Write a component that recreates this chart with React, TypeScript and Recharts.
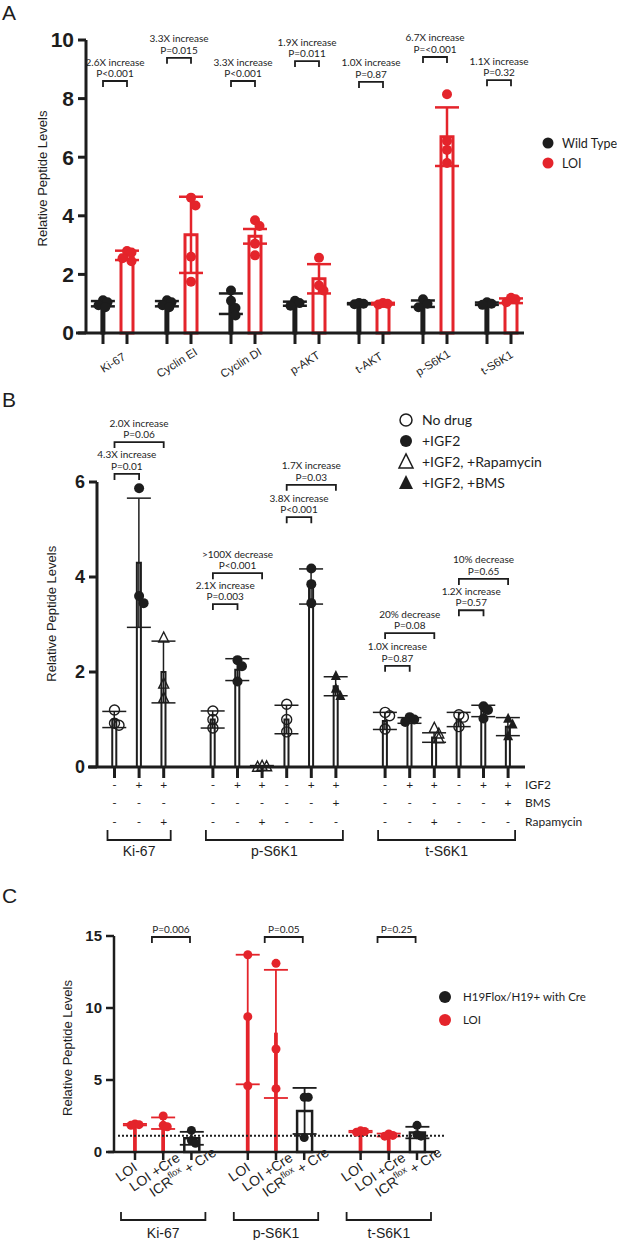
import React from 'react';
import {
  ComposedChart,
  Bar,
  ErrorBar,
  Scatter,
  Line,
  XAxis,
  YAxis,
  ReferenceLine,
} from 'recharts';

const RED = '#e4242b';
const INK = '#1d1d1d';
const NUM_FONT = '"Liberation Sans Narrow", "Liberation Sans", Arial, sans-serif';
const SANS = '"Liberation Sans", Arial, sans-serif';
const NOTE = 'Lato, "Liberation Sans", sans-serif';

// ---------- Panel A: wild type vs LOI ----------
const aProteins = ['Ki-67', 'Cyclin EI', 'Cyclin DI', 'p-AKT', 't-AKT', 'p-S6K1', 't-S6K1'];
const aWtMean = [1.0, 1.0, 1.0, 1.0, 1.0, 1.0, 1.0];
const aWtSd = [0.09, 0.09, 0.35, 0.07, 0.02, 0.11, 0.04];
const aLoiMean = [2.65, 3.35, 3.3, 1.85, 1.0, 6.7, 1.1];
const aLoiSd = [0.16, 1.3, 0.25, 0.5, 0.03, 1.0, 0.08];
const aWtPoints = [
  [1.12, 1.05, 0.95, 0.88],
  [1.12, 1.05, 0.95, 0.88],
  [1.45, 1.1, 0.85, 0.6],
  [1.1, 1.02, 0.93],
  [1.02, 1.0, 0.98],
  [1.15, 1.0, 0.88],
  [1.05, 1.0, 0.96],
];
const aLoiPoints = [
  [2.8, 2.75, 2.55, 2.45],
  [4.62, 4.35, 2.6, 1.75],
  [3.85, 3.65, 3.05, 2.65],
  [2.57, 1.62, 1.45],
  [1.02, 1.0, 0.97],
  [8.15, 6.55, 6.25, 5.8],
  [1.2, 1.15, 1.05],
];
const aStats = [
  { group: 0, y: 8.6, text: ['2.6X increase', 'P<0.001'] },
  { group: 1, y: 9.39, text: ['3.3X increase', 'P=0.015'] },
  { group: 2, y: 8.6, text: ['3.3X increase', 'P<0.001'] },
  { group: 3, y: 9.28, text: ['1.9X increase', 'P=0.011'] },
  { group: 4, y: 8.57, text: ['1.0X increase', 'P=0.87'] },
  { group: 5, y: 9.42, text: ['6.7X increase', 'P=<0.001'] },
  { group: 6, y: 8.63, text: ['1.1X increase', 'P=0.32'] },
];
const aLegend = ['Wild Type', 'LOI'];
const aYTicks = [0, 2, 4, 6, 8, 10];

// ---------- Panel B: drug treatments ----------
const bGroups = ['Ki-67', 'p-S6K1', 't-S6K1'];
const bGroupOf = [0, 0, 0, 1, 1, 1, 1, 1, 1, 2, 2, 2, 2, 2, 2];
const bIgf2 = ['-', '+', '+', '-', '+', '+', '-', '+', '+', '-', '+', '+', '-', '+', '+'];
const bBms = ['-', '-', '-', '-', '-', '-', '-', '-', '+', '-', '-', '-', '-', '-', '+'];
const bRapa = ['-', '-', '+', '-', '-', '+', '-', '-', '-', '-', '-', '+', '-', '-', '-'];
const bMean = [1.0, 4.3, 2.0, 1.0, 2.05, 0.02, 1.0, 3.8, 1.7, 0.97, 0.98, 0.62, 1.0, 1.18, 0.85];
const bSd = [0.17, 1.36, 0.65, 0.18, 0.23, 0.01, 0.3, 0.37, 0.2, 0.18, 0.06, 0.1, 0.15, 0.12, 0.19];
const bPoints = [
  [1.2, 0.92, 0.88],
  [5.87, 3.6, 3.45],
  [2.72, 1.75, 1.45],
  [1.18, 1.0, 0.82],
  [2.25, 2.12, 1.8],
  [0.02, 0.01, 0.0],
  [1.32, 1.0, 0.74],
  [4.18, 3.85, 3.45],
  [1.92, 1.65, 1.5],
  [1.15, 1.08, 0.8],
  [1.05, 1.0, 0.95],
  [0.82, 0.7, 0.6],
  [1.1, 1.05, 0.85],
  [1.28, 1.2, 1.02],
  [1.02, 0.9, 0.65],
];
const bStats = [
  { from: 0, to: 1, y: 6.17, text: ['4.3X increase', 'P=0.01'] },
  { from: 0, to: 2, y: 6.84, text: ['2.0X increase', 'P=0.06'] },
  { from: 6, to: 8, y: 5.94, text: ['1.7X increase', 'P=0.03'] },
  { from: 6, to: 7, y: 5.26, text: ['3.8X increase', 'P<0.001'] },
  { from: 3, to: 5, y: 4.08, text: ['>100X decrease', 'P<0.001'] },
  { from: 3, to: 4, y: 3.43, text: ['2.1X increase', 'P=0.003'] },
  { from: 9, to: 11, y: 2.82, text: ['20%  decrease', 'P=0.08'] },
  { from: 9, to: 10, y: 2.13, text: ['1.0X increase', 'P=0.87'] },
  { from: 12, to: 14, y: 3.96, text: ['10% decrease', 'P=0.65'] },
  { from: 12, to: 13, y: 3.3, text: ['1.2X increase', 'P=0.57'] },
];
const bLegend = ['No drug', '+IGF2', '+IGF2, +Rapamycin', '+IGF2, +BMS'];
const bRowNames = ['IGF2', 'BMS', 'Rapamycin'];
const bYTicks = [0, 2, 4, 6];

// ---------- Panel C: Cre rescue ----------
const cGroups = ['Ki-67', 'p-S6K1', 't-S6K1'];
const cConditions = ['LOI', 'LOI +Cre', 'ICR^flox^ + Cre'];
const cIsLoi = [true, true, false];
const cMean = [1.9, 2.0, 0.95, 9.2, 8.2, 2.85, 1.42, 1.18, 1.35];
const cSd = [0.05, 0.4, 0.45, 4.5, 4.45, 1.6, 0.05, 0.1, 0.4];
const cPoints = [
  [1.95, 1.9, 1.85],
  [2.5, 1.85, 1.75],
  [1.5, 0.8, 0.6],
  [13.7, 9.4, 4.6],
  [13.1, 7.15, 4.4],
  [3.8, 3.8, 1.0],
  [1.47, 1.42, 1.38],
  [1.25, 1.15, 1.1],
  [1.85, 1.2, 1.1],
];
const cStats = [
  { group: 0, y: 14.93, text: 'P=0.006' },
  { group: 1, y: 14.93, text: 'P=0.05' },
  { group: 2, y: 14.93, text: 'P=0.25' },
];
const cBaseline = 1.13;
const cLegend = ['H19Flox/H19+ with Cre', 'LOI'];
const cYTicks = [0, 5, 10, 15];

// ---------- layout ----------
const W = 617;
const A = { top: 0, height: 395, mTop: 40, left: 86, right: 93, xH: 62, px: 24, first: 17, yMax: 10 };
const B = { top: 380, height: 487, mTop: 54.5, left: 97, right: 92, xH: 100, px: 24.6, first: 17.5, yMax: 7 };
const C = { top: 880, height: 360, mTop: 56, left: 114, right: 181, xH: 88, px: 28.2, first: 21, yMax: 15 };

const domainOf = (L: any): [number, number] => {
  const min = -L.first / L.px;
  return [min, min + (W - L.left - L.right) / L.px];
};
const pyOf = (L: any) => (L.height - L.mTop - L.xH) / L.yMax;

const aDomain = domainOf(A);
const bDomain = domainOf(B);
const cDomain = domainOf(C);
const aPy = pyOf(A);
const bPy = pyOf(B);
const cPy = pyOf(C);

// slot positions: groups separated by one empty slot
const slotsFor = (groupOf: number[]) => {
  const out: number[] = [];
  groupOf.forEach((g, i) => {
    if (i === 0) out.push(0);
    else out.push(out[i - 1] + (g !== groupOf[i - 1] ? 2 : 1));
  });
  return out;
};

const aGroupStep = 8 / 3;
const aBarX = aProteins.flatMap((_, g) => [g * aGroupStep, g * aGroupStep + 1]);
const bX = slotsFor(bGroupOf);
const cGroupOf = cMean.map((_, i) => Math.floor(i / 3));
const cX = slotsFor(cGroupOf);

// spread overlapping dots sideways (pixel offsets)
const spread = [0, 1, -1, 0.5, -0.5, 1.5, -1.5];
function jitter(values: number[], py: number, r: number) {
  return values.map((v, i) => {
    const near = values.slice(0, i).filter((u) => Math.abs(u - v) * py < r * 1.6).length;
    return spread[Math.min(near, spread.length - 1)] * r * 0.9;
  });
}
function dotsFor(values: number[], x: number, py: number, px: number, r: number) {
  const offs = jitter(values, py, r);
  return values.map((v, k) => ({ x: x + offs[k] / px, y: v }));
}
const bracket = (x1: number, x2: number, y: number, leg: number) => [
  { x: x1, y: y - leg },
  { x: x1, y },
  { x: x2, y },
  { x: x2, y: y - leg },
];

// panel A series
const aRows = aProteins.flatMap((_, g) => [
  { x: aBarX[2 * g], wt: aWtMean[g], wtSd: aWtSd[g], loi: null, loiSd: null },
  { x: aBarX[2 * g + 1], wt: null, wtSd: null, loi: aLoiMean[g], loiSd: aLoiSd[g] },
]);
const aWtDots = aWtPoints.flatMap((vals, g) => dotsFor(vals, aBarX[2 * g], aPy, A.px, 5));
const aLoiDots = aLoiPoints.flatMap((vals, g) => dotsFor(vals, aBarX[2 * g + 1], aPy, A.px, 5));
const aBrackets = aStats.map((s) => bracket(aBarX[2 * s.group], aBarX[2 * s.group + 1], s.y, 6 / aPy));
const aNotes = aStats.map((s) => ({ x: (aBarX[2 * s.group] + aBarX[2 * s.group + 1]) / 2, y: s.y, text: s.text }));

// panel B series
const bKind = bIgf2.map((s, i) =>
  s === '-' ? 0 : bRapa[i] === '+' ? 2 : bBms[i] === '+' ? 3 : 1,
);
const bRows = bMean.map((m, i) => ({ x: bX[i], mean: m, sd: bSd[i] }));
const bDots = [0, 1, 2, 3].map((k) =>
  bPoints.flatMap((vals, i) => (bKind[i] === k ? dotsFor(vals, bX[i], bPy, B.px, 5) : [])),
);
const bBrackets = bStats.map((s) => bracket(bX[s.from], bX[s.to], s.y, 6 / bPy));
const bNotes = bStats.map((s) => ({ x: (bX[s.from] + bX[s.to]) / 2, y: s.y, text: s.text }));

// panel C series
const cRows = cMean.map((m, i) => {
  const loi = cIsLoi[i % 3];
  return {
    x: cX[i],
    loi: loi ? m : null,
    loiSd: loi ? cSd[i] : null,
    icr: loi ? null : m,
    icrSd: loi ? null : cSd[i],
  };
});
const cLoiDots = cPoints.flatMap((vals, i) => (cIsLoi[i % 3] ? dotsFor(vals, cX[i], cPy, C.px, 4.5) : []));
const cIcrDots = cPoints.flatMap((vals, i) => (!cIsLoi[i % 3] ? dotsFor(vals, cX[i], cPy, C.px, 4.5) : []));
const cBrackets = cStats.map((s) => bracket(cX[s.group * 3] + 0.6, cX[s.group * 3] + 1.95, s.y, 6 / cPy));
const cNotes = cStats.map((s) => ({ x: cX[s.group * 3] + 1.275, y: s.y, text: [s.text] }));

// ---------- shapes ----------
const dot = (fill: string, r: number) => (p: any) => <circle cx={p.cx} cy={p.cy} r={r} fill={fill} />;
const openDot = (p: any) => (
  <circle cx={p.cx} cy={p.cy} r={5} fill="none" stroke={INK} strokeWidth={1.4} />
);
const triPath = (cx: number, cy: number, s: number) =>
  `M${cx},${cy - s * 0.58} L${cx + s / 2},${cy + s * 0.42} L${cx - s / 2},${cy + s * 0.42} Z`;
const openTri = (p: any) => (
  <path d={triPath(p.cx, p.cy, 10)} fill="none" stroke={INK} strokeWidth={1.4} />
);
const fullTri = (p: any) => <path d={triPath(p.cx, p.cy, 10)} fill={INK} />;
const bShapes = [openDot, dot(INK, 5), openTri, fullTri];

const Note = (p: any) => {
  const lines: string[] = p.payload.text;
  return (
    <g>
      {lines.map((t, k) => (
        <text
          key={k}
          x={p.cx}
          y={p.cy - 4 - (lines.length - 1 - k) * 11.5}
          textAnchor="middle"
          fontFamily={NOTE}
          fontSize={10}
          fill={INK}
        >
          {t}
        </text>
      ))}
    </g>
  );
};

const findIndex = (xs: number[], v: number) => xs.findIndex((u) => Math.abs(u - v) < 1e-6);

// protein names sit centred under each pair of bars
const ATick = ({ x, y, payload }: any) => {
  const i = findIndex(aBarX, payload.value);
  if (i < 0 || i % 2 === 0) return <g />;
  const tx = x - A.px / 2;
  const ty = y + 20;
  return (
    <text x={tx} y={ty} textAnchor="middle" transform={`rotate(-32 ${tx} ${ty})`} fontFamily={SANS} fontSize={11.5} fill={INK}>
      {aProteins[(i - 1) / 2]}
    </text>
  );
};

const bRowY = [11, 29, 48];
const BTick = ({ x, y, payload }: any) => {
  const i = findIndex(bX, payload.value);
  if (i < 0) return <g />;
  const g = bGroupOf[i];
  const first = bGroupOf.indexOf(g);
  const last = bGroupOf.lastIndexOf(g);
  const rows = [bIgf2[i], bBms[i], bRapa[i]];
  const x2 = x + (bX[last] - bX[first]) * B.px;
  return (
    <g>
      {rows.map((s, r) => (
        <text key={r} x={x} y={y + bRowY[r]} textAnchor="middle" fontFamily={NOTE} fontSize={12} fill={INK}>
          {s}
        </text>
      ))}
      {i === bX.length - 1 &&
        bRowNames.map((n, r) => (
          <text key={n} x={x + 17} y={y + bRowY[r]} fontFamily={NOTE} fontSize={12} fill={INK}>
            {n}
          </text>
        ))}
      {i === first && (
        <g>
          <path d={`M${x - 7},${y + 52} V${y + 62} H${x2 + 7} V${y + 52}`} fill="none" stroke={INK} strokeWidth={1.8} />
          <text x={(x + x2) / 2} y={y + 78} textAnchor="middle" fontFamily={SANS} fontSize={14} fill={INK}>
            {bGroups[g]}
          </text>
        </g>
      )}
    </g>
  );
};

const condLabel = (s: string) => {
  const parts = s.split('^');
  if (parts.length < 3) return s;
  return (
    <>
      <tspan>{parts[0]}</tspan>
      <tspan fontSize={9} dy={-6}>
        {parts[1]}
      </tspan>
      <tspan dy={6}>{parts[2]}</tspan>
    </>
  );
};

const CTick = ({ x, y, payload }: any) => {
  const i = findIndex(cX, payload.value);
  if (i < 0) return <g />;
  const c = i % 3;
  const g = Math.floor(i / 3);
  const tx = x - 6;
  const ty = y + 16;
  const x2 = x + (cX[i + 2] - cX[i]) * C.px;
  return (
    <g>
      <text x={tx} y={ty} textAnchor="middle" transform={`rotate(-34 ${tx} ${ty})`} fontFamily={SANS} fontSize={14} fill={INK}>
        {condLabel(cConditions[c])}
      </text>
      {c === 0 && (
        <g>
          <path d={`M${x - 14},${y + 52} V${y + 60} H${x2 + 14} V${y + 52}`} fill="none" stroke={INK} strokeWidth={1.8} />
          <text x={(x + x2) / 2} y={y + 78} textAnchor="middle" fontFamily={SANS} fontSize={14} fill={INK}>
            {cGroups[g]}
          </text>
        </g>
      )}
    </g>
  );
};

const yLabel = (offset: number, dy: number) => ({
  value: 'Relative Peptide Levels',
  angle: -90,
  position: 'insideLeft' as const,
  offset,
  dy,
  style: { textAnchor: 'middle' as const, fill: INK, fontSize: 13, fontFamily: SANS },
});

const bracketLines = (list: any[], key: string) =>
  list.map((pts, i) => (
    <Line
      key={`${key}${i}`}
      data={pts}
      dataKey="y"
      type="linear"
      stroke={INK}
      strokeWidth={1.8}
      dot={false}
      activeDot={false}
      legendType="none"
      isAnimationActive={false}
    />
  ));

function PanelA() {
  return (
    <div style={{ position: 'absolute', left: 0, top: A.top }}>
      <ComposedChart width={W} height={A.height} data={aRows} margin={{ top: A.mTop, right: A.right, bottom: 0, left: 0 }}>
        <XAxis
          dataKey="x"
          type="number"
          domain={aDomain}
          ticks={aBarX}
          interval={0}
          height={A.xH}
          axisLine={false}
          tickLine={{ stroke: INK, strokeWidth: 3 }}
          tickSize={11}
          tickMargin={2}
          tick={<ATick />}
        />
        <XAxis xAxisId="alt" dataKey="x" type="number" domain={aDomain} hide />
        <YAxis
          type="number"
          domain={[0, A.yMax]}
          ticks={aYTicks}
          width={A.left}
          axisLine={false}
          tickLine={{ stroke: INK, strokeWidth: 3 }}
          tickSize={8}
          tickMargin={4}
          tick={{ fill: INK, fontSize: 21, fontWeight: 700, fontFamily: NUM_FONT }}
          label={yLabel(42, -8)}
        />
        <ReferenceLine
          segment={[{ x: aDomain[0] - 10 / A.px, y: 0 }, { x: aDomain[1], y: 0 }]}
          stroke={INK}
          strokeWidth={3}
          ifOverflow="visible"
        />
        <ReferenceLine
          segment={[{ x: aDomain[0], y: 0 }, { x: aDomain[0], y: 10 }]}
          stroke={INK}
          strokeWidth={3}
          ifOverflow="visible"
        />
        <Bar dataKey="wt" barSize={12} fill="#fff" stroke={INK} strokeWidth={3} isAnimationActive={false}>
          <ErrorBar dataKey="wtSd" width={12} stroke={INK} strokeWidth={2.5} direction="y" />
        </Bar>
        <Bar xAxisId="alt" dataKey="loi" barSize={12} fill="#fff" stroke={RED} strokeWidth={3} isAnimationActive={false}>
          <ErrorBar dataKey="loiSd" width={12} stroke={RED} strokeWidth={2.5} direction="y" />
        </Bar>
        <Scatter data={aWtDots} dataKey="y" shape={dot(INK, 5)} isAnimationActive={false} />
        <Scatter data={aLoiDots} dataKey="y" shape={dot(RED, 5)} isAnimationActive={false} />
        {bracketLines(aBrackets, 'ab')}
        <Scatter data={aNotes} dataKey="y" shape={Note} isAnimationActive={false} />
      </ComposedChart>
    </div>
  );
}

function PanelB() {
  return (
    <div style={{ position: 'absolute', left: 0, top: B.top }}>
      <ComposedChart width={W} height={B.height} data={bRows} margin={{ top: B.mTop, right: B.right, bottom: 0, left: 0 }}>
        <XAxis
          dataKey="x"
          type="number"
          domain={bDomain}
          ticks={bX}
          interval={0}
          height={B.xH}
          axisLine={false}
          tickLine={{ stroke: INK, strokeWidth: 3 }}
          tickSize={11}
          tickMargin={0}
          tick={<BTick />}
        />
        <YAxis
          type="number"
          domain={[0, B.yMax]}
          ticks={bYTicks}
          width={B.left}
          axisLine={false}
          tickLine={{ stroke: INK, strokeWidth: 3 }}
          tickSize={8}
          tickMargin={4}
          tick={{ fill: INK, fontSize: 18, fontWeight: 700, fontFamily: NUM_FONT }}
          label={yLabel(51, 13)}
        />
        <ReferenceLine
          segment={[{ x: bDomain[0] - 9 / B.px, y: 0 }, { x: bDomain[1], y: 0 }]}
          stroke={INK}
          strokeWidth={3}
          ifOverflow="visible"
        />
        <ReferenceLine
          segment={[{ x: bDomain[0], y: 0 }, { x: bDomain[0], y: 6 }]}
          stroke={INK}
          strokeWidth={3}
          ifOverflow="visible"
        />
        <Bar dataKey="mean" barSize={14} fill="#fff" stroke={INK} strokeWidth={2} isAnimationActive={false}>
          <ErrorBar dataKey="sd" width={12} stroke={INK} strokeWidth={1.5} direction="y" />
        </Bar>
        {bDots.map((d, k) => (
          <Scatter key={`bd${k}`} data={d} dataKey="y" shape={bShapes[k]} isAnimationActive={false} />
        ))}
        {bracketLines(bBrackets, 'bb')}
        <Scatter data={bNotes} dataKey="y" shape={Note} isAnimationActive={false} />
      </ComposedChart>
    </div>
  );
}

function PanelC() {
  return (
    <div style={{ position: 'absolute', left: 0, top: C.top }}>
      <ComposedChart width={W} height={C.height} data={cRows} margin={{ top: C.mTop, right: C.right, bottom: 0, left: 0 }}>
        <XAxis
          dataKey="x"
          type="number"
          domain={cDomain}
          ticks={cX}
          interval={0}
          height={C.xH}
          axisLine={false}
          tickLine={{ stroke: INK, strokeWidth: 2.5 }}
          tickSize={8}
          tickMargin={0}
          tick={<CTick />}
        />
        <XAxis xAxisId="alt" dataKey="x" type="number" domain={cDomain} hide />
        <YAxis
          type="number"
          domain={[0, C.yMax]}
          ticks={cYTicks}
          width={C.left}
          axisLine={false}
          tickLine={{ stroke: INK, strokeWidth: 2.5 }}
          tickSize={8}
          tickMargin={4}
          tick={{ fill: INK, fontSize: 15, fontWeight: 700, fontFamily: NUM_FONT }}
          label={yLabel(67, 4)}
        />
        <ReferenceLine
          segment={[{ x: cDomain[0] - 6 / C.px, y: 0 }, { x: cDomain[1], y: 0 }]}
          stroke={INK}
          strokeWidth={2.5}
          ifOverflow="visible"
        />
        <ReferenceLine
          segment={[{ x: cDomain[0], y: 0 }, { x: cDomain[0], y: 15 }]}
          stroke={INK}
          strokeWidth={2.5}
          ifOverflow="visible"
        />
        <Bar dataKey="loi" barSize={15} fill="#fff" stroke={RED} strokeWidth={2.5} isAnimationActive={false}>
          <ErrorBar dataKey="loiSd" width={12} stroke={RED} strokeWidth={1.8} direction="y" />
        </Bar>
        <Bar xAxisId="alt" dataKey="icr" barSize={15} fill="#fff" stroke={INK} strokeWidth={2.5} isAnimationActive={false}>
          <ErrorBar dataKey="icrSd" width={12} stroke={INK} strokeWidth={1.8} direction="y" />
        </Bar>
        <ReferenceLine
          segment={[{ x: cDomain[0] + 4 / C.px, y: cBaseline }, { x: cX[cX.length - 1] + 27 / C.px, y: cBaseline }]}
          stroke={INK}
          strokeWidth={2}
          strokeDasharray="2 2"
          ifOverflow="visible"
        />
        <Scatter data={cLoiDots} dataKey="y" shape={dot(RED, 4.5)} isAnimationActive={false} />
        <Scatter data={cIcrDots} dataKey="y" shape={dot(INK, 4.5)} isAnimationActive={false} />
        {bracketLines(cBrackets, 'cb')}
        <Scatter data={cNotes} dataKey="y" shape={Note} isAnimationActive={false} />
      </ComposedChart>
    </div>
  );
}

function Overlay() {
  const legendMark = [
    (x: number, y: number) => <circle cx={x} cy={y} r={6} fill="none" stroke={INK} strokeWidth={1.5} />,
    (x: number, y: number) => <circle cx={x} cy={y} r={6} fill={INK} />,
    (x: number, y: number) => <path d={triPath(x, y, 14)} fill="none" stroke={INK} strokeWidth={1.5} />,
    (x: number, y: number) => <path d={triPath(x, y, 14)} fill={INK} />,
  ];
  return (
    <svg width={W} height={1240} style={{ position: 'absolute', left: 0, top: 0, pointerEvents: 'none' }}>
      <g fontFamily={SANS} fontSize={21} fill={INK}>
        <text x={2} y={20}>A</text>
        <text x={2} y={407}>B</text>
        <text x={2} y={903}>C</text>
      </g>
      {aLegend.map((t, i) => (
        <g key={t}>
          <circle cx={548} cy={143 + i * 20} r={5.5} fill={i === 0 ? INK : RED} />
          <text x={562} y={148 + i * 20} fontFamily={NOTE} fontSize={12.5} fill={INK}>
            {t}
          </text>
        </g>
      ))}
      {bLegend.map((t, i) => (
        <g key={t}>
          {legendMark[i](406, 420 + i * 21)}
          <text x={422} y={425 + i * 21} fontFamily={NOTE} fontSize={14} fill={INK}>
            {t}
          </text>
        </g>
      ))}
      {cLegend.map((t, i) => (
        <g key={t}>
          <circle cx={445} cy={997 + i * 23} r={6} fill={i === 0 ? INK : RED} />
          <text x={463} y={1001 + i * 23} fontFamily={NOTE} fontSize={11.5} fill={INK}>
            {t}
          </text>
        </g>
      ))}
    </svg>
  );
}

export default function App() {
  return (
    <div style={{ position: 'absolute', left: 0, top: 0, width: W, height: 1240, background: '#fff', overflow: 'hidden' }}>
      <PanelA />
      <PanelB />
      <PanelC />
      <Overlay />
    </div>
  );
}
